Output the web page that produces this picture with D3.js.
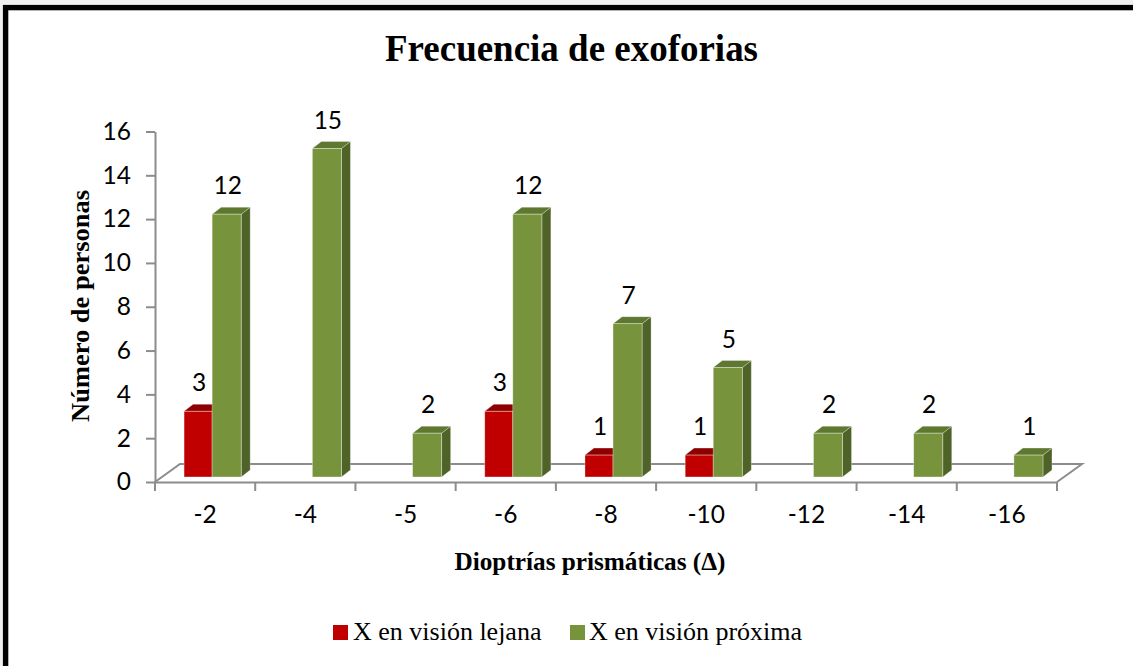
<!DOCTYPE html>
<html>
<head>
<meta charset="utf-8">
<script src="https://cdn.jsdelivr.net/npm/d3@7"></script>
<style>
  html, body { margin: 0; padding: 0; background: #f0f0f0; }
  svg { display: block; }
</style>
</head>
<body>
<svg id="chart" width="1133" height="666"></svg>
<script>
// ---- data ----
const categories = ["-2", "-4", "-5", "-6", "-8", "-10", "-12", "-14", "-16"];
const lejana  = [3, 0, 0, 3, 1, 1, 0, 0, 0];
const proxima = [12, 15, 2, 12, 7, 5, 2, 2, 1];
const yTicks = [0, 2, 4, 6, 8, 10, 12, 14, 16];
const seriesNames = ["X en visión lejana", "X en visión próxima"];

// ---- styles ----
const colors = [
  { front: "#C00000", top: "#8E0000", side: "#800000" },
  { front: "#77933C", top: "#5F7830", side: "#4F6228" }
];
const serifFont = "'Liberation Serif', 'Times New Roman', serif";
const sansFont = "Lato, 'Open Sans', sans-serif";
const sansSize = 24.5;

const svg = d3.select("#chart");

// background & frame
svg.append("rect").attr("x", 3).attr("y", 5).attr("width", 1200).attr("height", 800).attr("fill", "#ffffff");
svg.append("rect").attr("x", 5.6).attr("y", 7.6).attr("width", 1200).attr("height", 800)
  .attr("fill", "none").attr("stroke", "#000").attr("stroke-width", 5.4);

// ---- scales ----
const x = d3.scaleBand().domain(categories).range([155, 1057]).padding(0);
const yAxisScale = d3.scaleLinear().domain([0, 16]).range([482, 131.5]);
const yBar = d3.scaleLinear().domain([0, 16]).range([477, 126.6]);
const depth = { dx: 25, dy: -18 };   // floor depth
const barDepth = { dx: 9, dy: -7 };  // bar depth
const slot = [{ off: 0.29, w: 0.28 }, { off: 0.57, w: 0.29 }];

const axisColor = "#8c8c8c";

// ---- floor ----
const x0 = x.range()[0], x1 = x.range()[1], y0 = yAxisScale(0);
svg.append("path")
  .attr("d", `M${x0},${y0} L${x0 + depth.dx},${y0 + depth.dy} L${x1 + depth.dx},${y0 + depth.dy} L${x1},${y0}`)
  .attr("fill", "none").attr("stroke", axisColor).attr("stroke-width", 2);

// ---- y axis ----
const yAxis = d3.axisLeft(yAxisScale).tickValues(yTicks).tickSize(9).tickPadding(15).tickSizeOuter(0);
const gy = svg.append("g").attr("transform", `translate(${x0},0)`).call(yAxis);
gy.select(".domain").attr("stroke", axisColor).attr("stroke-width", 2);
gy.selectAll(".tick line").attr("stroke", axisColor).attr("stroke-width", 2);
gy.selectAll(".tick text").attr("font-family", sansFont).attr("font-size", sansSize).attr("fill", "#000");

// ---- x axis ----
const xAxis = d3.axisBottom(x).tickSize(0).tickPadding(24).tickSizeOuter(0);
const gx = svg.append("g").attr("transform", `translate(0,${y0})`).call(xAxis);
gx.select(".domain").attr("stroke", axisColor).attr("stroke-width", 2);
gx.selectAll(".tick text").attr("font-family", sansFont).attr("font-size", sansSize).attr("fill", "#000");
const boundaries = categories.map(c => x(c)).concat([x1]);
svg.append("g").selectAll("line").data(boundaries).join("line")
  .attr("x1", d => d).attr("x2", d => d).attr("y1", y0).attr("y2", y0 + 9)
  .attr("stroke", axisColor).attr("stroke-width", 2);

// ---- bars ----
const seriesData = [lejana, proxima];
const barsG = svg.append("g");
categories.forEach((cat, i) => {
  seriesData.forEach((vals, s) => {
    const v = vals[i];
    if (!v) return;
    const bx = x(cat) + x.bandwidth() * slot[s].off;
    const bw = x.bandwidth() * slot[s].w;
    const yt = yBar(v), yb = yBar(0);
    const g = barsG.append("g");
    const c = colors[s];
    // side
    g.append("path")
      .attr("d", `M${bx + bw},${yb} L${bx + bw + barDepth.dx},${yb + barDepth.dy} L${bx + bw + barDepth.dx},${yt + barDepth.dy} L${bx + bw},${yt} Z`)
      .attr("fill", c.side).attr("stroke", "rgba(255,255,255,0.35)").attr("stroke-width", 0.8);
    // top
    g.append("path")
      .attr("d", `M${bx},${yt} L${bx + barDepth.dx},${yt + barDepth.dy} L${bx + bw + barDepth.dx},${yt + barDepth.dy} L${bx + bw},${yt} Z`)
      .attr("fill", c.top).attr("stroke", "rgba(255,255,255,0.35)").attr("stroke-width", 0.8);
    // front
    g.append("rect").attr("x", bx).attr("y", yt).attr("width", bw).attr("height", yb - yt)
      .attr("fill", c.front).attr("stroke", "rgba(255,255,255,0.45)").attr("stroke-width", 0.8);
  });
});

// ---- value labels ----
const labelsG = svg.append("g");
categories.forEach((cat, i) => {
  seriesData.forEach((vals, s) => {
    const v = vals[i];
    if (!v) return;
    const bx = x(cat) + x.bandwidth() * slot[s].off;
    const bw = x.bandwidth() * slot[s].w;
    labelsG.append("text")
      .attr("x", bx + bw / 2 + 1).attr("y", yBar(v) - 20)
      .attr("text-anchor", "middle")
      .attr("font-family", sansFont).attr("font-size", sansSize).attr("fill", "#000")
      .text(v);
  });
});

// ---- titles ----
svg.append("text").attr("x", 571.5).attr("y", 61).attr("text-anchor", "middle")
  .attr("font-family", serifFont).attr("font-weight", "bold").attr("font-size", 37)
  .attr("textLength", 373).attr("lengthAdjust", "spacingAndGlyphs")
  .text("Frecuencia de exoforias");

svg.append("text").attr("transform", "translate(89,306) rotate(-90)").attr("text-anchor", "middle")
  .attr("font-family", serifFont).attr("font-weight", "bold").attr("font-size", 25)
  .attr("textLength", 232).attr("lengthAdjust", "spacingAndGlyphs")
  .text("Número de personas");

svg.append("text").attr("x", 590).attr("y", 570).attr("text-anchor", "middle")
  .attr("font-family", serifFont).attr("font-weight", "bold").attr("font-size", 25)
  .attr("textLength", 271).attr("lengthAdjust", "spacingAndGlyphs")
  .text("Dioptrías prismáticas (Δ)");

// ---- legend ----
const legendItems = [
  { sq: 333, tx: 353 },
  { sq: 570, tx: 589 }
];
const lg = svg.append("g");
seriesNames.forEach((name, s) => {
  lg.append("rect").attr("x", legendItems[s].sq).attr("y", 625).attr("width", 15).attr("height", 15)
    .attr("fill", colors[s].front);
  lg.append("text").attr("x", legendItems[s].tx).attr("y", 640)
    .attr("font-family", serifFont).attr("font-size", 26).attr("fill", "#000")
    .text(name);
});
</script>
</body>
</html>
